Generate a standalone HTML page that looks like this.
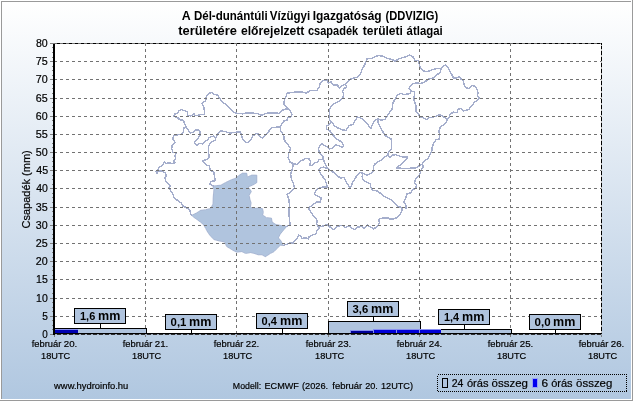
<!DOCTYPE html>
<html lang="hu"><head><meta charset="utf-8"><title>DDVIZIG csapadék előrejelzés</title>
<style>html,body{margin:0;padding:0;background:#fff;overflow:hidden}svg{display:block}text{font-family:"Liberation Sans",sans-serif;fill:#000;stroke:#000;stroke-width:0.2px}text[font-weight=bold]{stroke:none}</style>
</head><body>
<svg width="633" height="401" viewBox="0 0 633 401">
<defs><linearGradient id="bg" x1="0" y1="0" x2="0" y2="1"><stop offset="0" stop-color="#ffffff"/><stop offset="1" stop-color="#b0c7e0"/></linearGradient></defs>
<rect x="0" y="0" width="633" height="401" fill="#ffffff"/>
<rect x="2" y="2" width="630" height="398" fill="url(#bg)"/>
<g shape-rendering="crispEdges">
<rect x="1" y="1" width="630" height="1" fill="#9a9a9a"/>
<rect x="1" y="1" width="1" height="398" fill="#9a9a9a"/>
<rect x="0" y="400" width="633" height="1" fill="#9a9a9a"/>
<rect x="632" y="0" width="1" height="401" fill="#9a9a9a"/>
<rect x="1" y="399" width="631" height="1" fill="#ffffff"/>
<rect x="631" y="1" width="1" height="399" fill="#ffffff"/>
<rect x="54" y="43" width="548" height="292" fill="#ffffff"/>
</g>
<g fill="none" stroke="#a5aecc" stroke-width="1.45" stroke-linejoin="round" stroke-linecap="round" shape-rendering="crispEdges">
<polygon points="213.2,185.9 220.8,185.2 225.2,182.7 230.3,180.2 235.3,178.3 238.5,175.7 242.3,173.2 246.7,173.2 247.4,177.0 251.8,175.1 256.8,175.2 256.8,182.6 254.5,184.2 251.0,185.8 248.2,187.0 250.0,189.5 251.4,191.4 249.2,195.3 249.9,199.1 251.1,202.9 250.5,206.7 253.0,208.6 258.1,208.0 262.5,208.6 263.4,212.4 262.6,215.0 266.4,217.5 271.5,218.2 272.1,222.0 275.9,224.5 281.0,225.5 286.7,226.4 284.1,229.5 280.3,234.0 278.4,237.8 281.0,240.9 283.3,245.5 280.3,245.3 277.2,248.5 274.0,251.7 270.2,253.6 266.4,256.1 265.2,256.7 262.0,254.8 258.2,254.8 254.4,253.5 250.6,252.6 245.6,253.5 241.8,251.6 236.7,252.2 232.9,250.3 229.8,248.4 226.6,246.5 224.7,242.1 219.0,240.9 214.0,239.6 210.2,235.8 207.6,232.0 205.6,228.4 203.5,224.6 200.6,222.3 197.4,219.8 193.6,217.2 191.7,215.3 193.0,214.7 196.8,212.8 200.6,210.3 205.6,209.7 210.7,208.4 213.0,204.0 213.2,197.6 213.8,190.0" fill="#b0c4de" stroke="#a8b5d3" stroke-width="0.9"/>
<polyline points="173.4,116.5 174.7,114.0 177.2,113.4 179.0,110.9 181.6,109.6 184.1,110.5 187.3,111.7 187.9,115.3 190.5,115.9 192.4,115.3 193.6,113.4 194.9,115.3 198.0,115.3 200.6,114.7 204.4,114.7 204.4,110.9 203.7,106.4 201.8,103.3 203.7,102.0 205.6,100.7 206.3,96.3 208.2,93.8 211.7,92.3 214.5,94.4 217.6,95.1 219.5,98.2 222.1,102.0 225.2,103.9 227.5,106.4 230.7,109.6 234.5,112.5 237.6,113.4 242.7,113.8 247.1,112.8 252.2,113.0 257.9,113.8 261.7,115.3 265.5,113.4 269.9,112.8 275.6,113.0 279.4,113.4 282.5,110.2 286.3,109.0 288.2,109.0 286.3,106.4 283.8,104.5 284.4,100.1 286.3,96.3 286.9,93.2 292.0,92.5 297.1,91.9 302.1,91.9 306.3,93.0 310.1,90.7 316.4,90.7 319.0,87.9 320.2,83.1 324.7,79.7 327.2,80.1 328.4,82.9 331.0,81.6 333.5,85.4 337.3,84.8 339.2,87.9 342.4,85.4 345.5,84.4 349.3,79.7 354.4,77.8 357.5,77.2 360.7,73.4 362.2,69.0 364.5,65.2 367.0,58.8 372.1,58.2 375.9,56.3 378.8,55.7 382.6,56.1 385.8,57.6 389.0,58.9 392.1,59.5 395.3,61.4 398.4,58.9 402.9,57.6 406.7,56.4 409.8,55.1 413.0,57.0 414.9,60.2 418.0,60.8 419.3,64.0 420.6,68.4 423.7,70.9 426.9,71.8 430.7,70.3 434.5,69.0 438.3,68.4 441.0,69.0 442.6,67.0 445.2,65.1 447.7,67.0 449.6,70.8 451.5,74.0 453.4,77.8 456.5,78.0 459.3,76.7 461.0,79.0 463.1,80.9 464.1,84.7 466.0,87.9 468.6,88.5 471.7,85.6 474.9,86.0 476.8,89.1 478.0,92.3 477.4,95.5 479.3,98.0 476.5,100.6 473.7,103.2 471.2,106.4 468.7,109.6 463.6,110.9 460.5,108.3 457.9,109.6 457.3,112.8 453.5,112.1 450.3,114.0 449.1,117.2 447.2,119.7 445.9,122.9 443.4,124.8 440.2,127.3 439.0,131.1 439.6,134.9 439.4,138.8 436.0,139.9 433.5,143.3 432.2,147.7 431.6,152.1 429.7,154.7 428.4,158.4 424.7,160.3 422.1,164.1 423.4,166.7 420.9,170.5 420.0,173.6 419.0,176.1 415.9,178.2 414.6,182.6 416.5,185.2 415.9,188.3 412.7,189.6 410.8,192.8 407.0,194.0 405.7,197.8 403.8,201.6 405.7,204.8 406.4,207.9 401.9,207.3 401.9,210.5 400.1,214.2 397.5,217.4 394.4,218.7 390.6,219.3 388.0,217.8 383.6,217.8 380.5,218.7 378.8,219.5 379.4,222.6 378.2,225.2 376.3,227.1 373.7,229.0 370.6,227.1 367.4,225.2 364.2,228.3 361.7,226.4 357.9,227.1 354.8,229.6 351.6,228.3 349.1,225.8 345.3,227.7 342.1,225.2 337.1,226.4 333.9,229.6 330.7,227.7 328.2,225.2 325.1,225.2 322.1,226.4 318.3,227.0 318.9,228.9 317.0,230.8 315.7,234.0 312.0,235.2 308.8,237.1 308.2,239.0 305.6,237.8 301.8,238.4 300.6,235.9 298.7,235.2 296.8,239.0 294.2,240.9 293.6,243.1 290.5,242.8 287.3,244.1 283.3,245.5"/>
<polyline points="173.4,116.5 177.2,117.2 179.7,119.7 183.5,120.3 184.4,123.5 186.0,126.7 183.9,127.9 183.5,131.7 181.0,134.2 177.2,134.9 174.0,135.8 172.8,138.7 173.4,140.0 175.3,142.5 172.1,145.0 171.7,148.8 172.8,152.0 175.9,153.3 175.0,156.4 175.9,159.0 173.4,160.9 175.3,162.8 172.1,163.4 169.0,162.8 166.4,163.4 164.5,162.1 162.6,165.3 159.5,167.2 157.6,169.7 155.7,171.6 157.0,173.1 158.8,171.0 162.6,171.0 165.2,173.1 166.4,176.0 164.9,177.9 165.8,181.7 169.0,184.2 170.2,186.1 168.9,187.6 170.2,190.1 172.8,193.8 174.0,197.6 177.2,200.2 181.0,202.7 182.9,205.9 186.7,207.8 189.8,210.3 191.1,214.7 191.7,215.3"/>
<polyline points="186.0,126.7 187.9,129.8 190.5,133.0 193.0,132.4 194.9,130.2 198.0,129.8 199.9,131.7 200.3,134.9 198.7,137.4 196.8,140.0 194.5,142.5 197.4,145.7 198.7,143.2 202.5,143.8 205.6,140.6 207.5,140.0 209.4,137.4 213.2,136.1 215.7,138.0 218.3,133.0 220.8,130.7 224.6,131.5 230.1,133.0 235.1,132.4 240.2,131.7 241.4,135.5 242.7,138.8 245.9,142.6 248.4,142.6 250.9,140.0 252.2,136.9 253.4,135.5 256.0,133.6 258.5,134.2 260.4,137.4 262.9,138.0 265.5,134.9 268.0,132.4 269.9,129.8 271.8,127.3 275.6,127.3 280.0,126.7 281.9,124.1 283.8,121.0 286.9,120.3 287.6,117.8 290.7,117.2 292.0,114.7 290.7,111.5 288.2,109.0"/>
<polyline points="215.7,138.0 215.7,140.0 210.7,142.5 208.8,145.7 208.4,151.4 209.2,157.7 206.3,159.6 202.8,160.9 205.6,164.7 209.4,165.9 210.2,169.8 213.8,172.4 214.5,177.2 215.4,180.7 210.4,181.6 210.0,184.4 213.2,185.9"/>
<polyline points="280.0,126.7 280.6,130.5 282.5,133.6 284.4,136.8 283.6,139.0 285.7,142.0 288.2,145.1 290.7,148.3 288.8,152.7 288.2,157.8 290.1,162.2 293.3,163.4 292.6,167.9 290.7,174.2 291.4,178.8 293.3,183.2 294.5,187.6 291.4,191.4 287.0,194.6 288.8,199.0 289.5,205.3 288.8,212.9 289.5,219.2 290.2,225.1 286.7,226.4"/>
<polyline points="293.3,163.4 297.1,164.7 300.9,160.9 302.5,160.3 305.7,158.4 309.5,159.0 310.7,162.2 309.5,165.3 312.6,165.3 315.2,162.8 317.7,162.2 319.0,159.7 323.4,159.7"/>
<polyline points="345.5,84.4 346.8,86.7 344.2,88.6 342.4,91.1 343.6,94.2 343.0,97.4 341.7,99.4 337.9,102.0 334.1,103.8 331.0,106.4 329.3,110.2 329.7,115.2 329.7,119.7 331.6,122.2 328.4,125.3 326.5,126.0 326.8,129.1 329.7,130.4 331.0,132.9 333.5,135.5 337.3,139.4 341.7,142.0 343.6,145.7 342.4,147.6 338.6,145.7 335.4,144.5 333.5,147.6 329.7,148.9 327.2,147.0 324.7,145.7 322.1,143.8 319.6,145.7 318.3,149.5 320.2,153.3 322.8,155.9 323.4,159.7 325.3,164.1 327.2,167.9 330.3,170.4 333.5,172.3 336.7,175.5 340.5,178.0 344.2,177.4 345.5,181.1 348.2,185.2 350.5,187.7 352.6,182.6 355.2,178.2 357.7,174.4 360.2,172.3 362.8,173.2 367.2,175.1 371.0,173.2 373.5,170.6 373.3,166.6 374.8,164.2 377.9,161.7 381.7,159.8 384.2,157.2 387.4,155.3"/>
<polyline points="327.2,167.9 325.9,168.1 323.4,167.2 320.9,167.6 319.0,169.8 320.2,172.9 322.8,176.7 324.9,179.4 326.1,182.6 327.4,187.0 323.6,187.0 320.5,187.6 316.7,189.5 314.1,194.0 317.3,195.9 321.1,197.8 320.5,202.2 316.7,202.2 312.9,204.7 308.4,208.1 311.0,212.3 314.1,216.7 317.4,220.6 316.5,224.0 318.3,227.0"/>
<polyline points="331.6,122.2 334.8,126.0 337.9,127.9 342.4,129.8 346.1,130.4 348.7,126.0 353.1,124.1 355.6,119.7 357.5,117.1 360.7,117.8 365.7,122.2 368.9,126.0 370.8,128.5 373.3,122.8 375.5,119.4 378.2,119.1 378.2,122.9 380.3,127.4 383.1,132.1 385.4,135.6 388.8,137.7 391.3,139.2 391.8,144.0 391.2,149.0 388.7,152.2 387.4,155.3"/>
<polyline points="378.2,119.1 382.0,120.3 385.2,119.1 387.7,115.3 389.6,112.1 392.1,109.0 392.8,103.3 395.3,98.8 397.2,95.1 401.0,93.2 404.1,94.6 407.3,94.0 409.8,93.7 411.1,91.1 409.2,88.6 410.5,85.5 413.0,83.6 416.8,82.9 420.6,83.6 425.0,81.7 428.8,79.1 433.2,77.9 437.0,74.7 440.2,72.5 441.0,69.0"/>
<polyline points="411.1,91.1 414.5,91.8 414.2,96.3 414.2,100.7 416.1,106.4 416.1,111.5 418.7,114.7 420.6,116.8 424.4,118.4 426.3,119.7 428.8,117.8 431.9,117.2 435.7,116.5 438.9,114.5 442.1,115.9 444.9,117.8 447.2,119.7"/>
<polyline points="387.4,155.3 389.9,157.2 391.8,155.3 395.6,154.7 399.4,156.0 403.2,157.0 407.9,157.0 405.4,160.4 401.9,163.6 398.8,166.1 396.9,168.0 401.9,168.3 409.5,168.3 415.9,167.8 419.0,166.0 422.1,164.3"/>
<polyline points="362.8,173.2 362.1,177.0 363.4,180.1 366.5,182.0 370.3,183.9 371.0,187.7 372.9,190.2 377.3,190.9 380.5,193.4 383.6,195.9 387.4,197.8 391.2,199.7 393.7,202.2 396.3,204.8 398.8,206.9 401.9,207.3"/>
</g>
<g shape-rendering="crispEdges">
<line x1="54" y1="316.5" x2="601" y2="316.5" stroke="#727272" stroke-width="1" stroke-dasharray="3 3"/>
<line x1="54" y1="298.5" x2="601" y2="298.5" stroke="#727272" stroke-width="1" stroke-dasharray="3 3"/>
<line x1="54" y1="279.5" x2="601" y2="279.5" stroke="#727272" stroke-width="1" stroke-dasharray="3 3"/>
<line x1="54" y1="261.5" x2="601" y2="261.5" stroke="#727272" stroke-width="1" stroke-dasharray="3 3"/>
<line x1="54" y1="243.5" x2="601" y2="243.5" stroke="#727272" stroke-width="1" stroke-dasharray="3 3"/>
<line x1="54" y1="225.5" x2="601" y2="225.5" stroke="#727272" stroke-width="1" stroke-dasharray="3 3"/>
<line x1="54" y1="207.5" x2="601" y2="207.5" stroke="#727272" stroke-width="1" stroke-dasharray="3 3"/>
<line x1="54" y1="188.5" x2="601" y2="188.5" stroke="#727272" stroke-width="1" stroke-dasharray="3 3"/>
<line x1="54" y1="170.5" x2="601" y2="170.5" stroke="#727272" stroke-width="1" stroke-dasharray="3 3"/>
<line x1="54" y1="152.5" x2="601" y2="152.5" stroke="#727272" stroke-width="1" stroke-dasharray="3 3"/>
<line x1="54" y1="134.5" x2="601" y2="134.5" stroke="#727272" stroke-width="1" stroke-dasharray="3 3"/>
<line x1="54" y1="116.5" x2="601" y2="116.5" stroke="#727272" stroke-width="1" stroke-dasharray="3 3"/>
<line x1="54" y1="98.5" x2="601" y2="98.5" stroke="#727272" stroke-width="1" stroke-dasharray="3 3"/>
<line x1="54" y1="79.5" x2="601" y2="79.5" stroke="#727272" stroke-width="1" stroke-dasharray="3 3"/>
<line x1="54" y1="61.5" x2="601" y2="61.5" stroke="#727272" stroke-width="1" stroke-dasharray="3 3"/>
<line x1="145.5" y1="43" x2="145.5" y2="334" stroke="#727272" stroke-width="1" stroke-dasharray="3 3"/>
<line x1="236.5" y1="43" x2="236.5" y2="334" stroke="#727272" stroke-width="1" stroke-dasharray="3 3"/>
<line x1="328.5" y1="43" x2="328.5" y2="334" stroke="#727272" stroke-width="1" stroke-dasharray="3 3"/>
<line x1="419.5" y1="43" x2="419.5" y2="334" stroke="#727272" stroke-width="1" stroke-dasharray="3 3"/>
<line x1="510.5" y1="43" x2="510.5" y2="334" stroke="#727272" stroke-width="1" stroke-dasharray="3 3"/>
<rect x="50" y="334" width="3" height="1" fill="#808080"/>
<rect x="52" y="329" width="1" height="1" fill="#808080"/>
<rect x="52" y="325" width="1" height="1" fill="#808080"/>
<rect x="52" y="320" width="1" height="1" fill="#808080"/>
<rect x="50" y="316" width="3" height="1" fill="#808080"/>
<rect x="52" y="311" width="1" height="1" fill="#808080"/>
<rect x="52" y="307" width="1" height="1" fill="#808080"/>
<rect x="52" y="302" width="1" height="1" fill="#808080"/>
<rect x="50" y="298" width="3" height="1" fill="#808080"/>
<rect x="52" y="293" width="1" height="1" fill="#808080"/>
<rect x="52" y="288" width="1" height="1" fill="#808080"/>
<rect x="52" y="284" width="1" height="1" fill="#808080"/>
<rect x="50" y="279" width="3" height="1" fill="#808080"/>
<rect x="52" y="275" width="1" height="1" fill="#808080"/>
<rect x="52" y="270" width="1" height="1" fill="#808080"/>
<rect x="52" y="266" width="1" height="1" fill="#808080"/>
<rect x="50" y="261" width="3" height="1" fill="#808080"/>
<rect x="52" y="257" width="1" height="1" fill="#808080"/>
<rect x="52" y="252" width="1" height="1" fill="#808080"/>
<rect x="52" y="248" width="1" height="1" fill="#808080"/>
<rect x="50" y="243" width="3" height="1" fill="#808080"/>
<rect x="52" y="238" width="1" height="1" fill="#808080"/>
<rect x="52" y="234" width="1" height="1" fill="#808080"/>
<rect x="52" y="229" width="1" height="1" fill="#808080"/>
<rect x="50" y="225" width="3" height="1" fill="#808080"/>
<rect x="52" y="220" width="1" height="1" fill="#808080"/>
<rect x="52" y="216" width="1" height="1" fill="#808080"/>
<rect x="52" y="211" width="1" height="1" fill="#808080"/>
<rect x="50" y="207" width="3" height="1" fill="#808080"/>
<rect x="52" y="202" width="1" height="1" fill="#808080"/>
<rect x="52" y="197" width="1" height="1" fill="#808080"/>
<rect x="52" y="193" width="1" height="1" fill="#808080"/>
<rect x="50" y="188" width="3" height="1" fill="#808080"/>
<rect x="52" y="184" width="1" height="1" fill="#808080"/>
<rect x="52" y="179" width="1" height="1" fill="#808080"/>
<rect x="52" y="175" width="1" height="1" fill="#808080"/>
<rect x="50" y="170" width="3" height="1" fill="#808080"/>
<rect x="52" y="166" width="1" height="1" fill="#808080"/>
<rect x="52" y="161" width="1" height="1" fill="#808080"/>
<rect x="52" y="157" width="1" height="1" fill="#808080"/>
<rect x="50" y="152" width="3" height="1" fill="#808080"/>
<rect x="52" y="147" width="1" height="1" fill="#808080"/>
<rect x="52" y="143" width="1" height="1" fill="#808080"/>
<rect x="52" y="138" width="1" height="1" fill="#808080"/>
<rect x="50" y="134" width="3" height="1" fill="#808080"/>
<rect x="52" y="129" width="1" height="1" fill="#808080"/>
<rect x="52" y="125" width="1" height="1" fill="#808080"/>
<rect x="52" y="120" width="1" height="1" fill="#808080"/>
<rect x="50" y="116" width="3" height="1" fill="#808080"/>
<rect x="52" y="111" width="1" height="1" fill="#808080"/>
<rect x="52" y="107" width="1" height="1" fill="#808080"/>
<rect x="52" y="102" width="1" height="1" fill="#808080"/>
<rect x="50" y="98" width="3" height="1" fill="#808080"/>
<rect x="52" y="93" width="1" height="1" fill="#808080"/>
<rect x="52" y="88" width="1" height="1" fill="#808080"/>
<rect x="52" y="84" width="1" height="1" fill="#808080"/>
<rect x="50" y="79" width="3" height="1" fill="#808080"/>
<rect x="52" y="75" width="1" height="1" fill="#808080"/>
<rect x="52" y="70" width="1" height="1" fill="#808080"/>
<rect x="52" y="66" width="1" height="1" fill="#808080"/>
<rect x="50" y="61" width="3" height="1" fill="#808080"/>
<rect x="52" y="57" width="1" height="1" fill="#808080"/>
<rect x="52" y="52" width="1" height="1" fill="#808080"/>
<rect x="52" y="47" width="1" height="1" fill="#808080"/>
<rect x="50" y="43" width="3" height="1" fill="#808080"/>
<rect x="54" y="335" width="1" height="2" fill="#808080"/>
<rect x="145" y="335" width="1" height="2" fill="#808080"/>
<rect x="236" y="335" width="1" height="2" fill="#808080"/>
<rect x="328" y="335" width="1" height="2" fill="#808080"/>
<rect x="419" y="335" width="1" height="2" fill="#808080"/>
<rect x="510" y="335" width="1" height="2" fill="#808080"/>
<rect x="601" y="335" width="1" height="2" fill="#808080"/>
</g>
<g shape-rendering="crispEdges">
<rect x="54.5" y="328.5" width="92" height="5" fill="#b0c4de" stroke="#000" stroke-width="1"/>
<rect x="328.5" y="321.5" width="92" height="12" fill="#b0c4de" stroke="#000" stroke-width="1"/>
<rect x="419.5" y="329.5" width="92" height="4" fill="#b0c4de" stroke="#000" stroke-width="1"/>
<rect x="54" y="329" width="24" height="4" fill="#8890f0"/>
<rect x="55" y="330" width="23" height="3" fill="#0000b0"/>
<rect x="350" y="330" width="23" height="3" fill="#8890f0"/>
<rect x="351" y="331" width="22" height="2" fill="#000098"/>
<rect x="373" y="329" width="23" height="4" fill="#8890f0"/>
<rect x="374" y="330" width="22" height="3" fill="#0000d8"/>
<rect x="396" y="329" width="23" height="4" fill="#8890f0"/>
<rect x="397" y="330" width="22" height="3" fill="#0000d8"/>
<rect x="419" y="329" width="22" height="4" fill="#8890f0"/>
<rect x="420" y="330" width="21" height="3" fill="#0000d8"/>
<rect x="53" y="43" width="2" height="292" fill="#000"/>
<rect x="53" y="333" width="549" height="1" fill="#000"/>
<line x1="50" y1="43.5" x2="55" y2="43.5" stroke="#808080" stroke-width="1"/>
<line x1="54" y1="43.5" x2="602" y2="43.5" stroke="#727272" stroke-width="1" stroke-dasharray="3 3"/>
<line x1="57" y1="43.5" x2="602" y2="43.5" stroke="#000" stroke-width="1" stroke-dasharray="3 3"/>
<line x1="601.5" y1="43" x2="601.5" y2="335" stroke="#b8b8b8" stroke-width="1"/>
<line x1="601.5" y1="43" x2="601.5" y2="335" stroke="#000" stroke-width="1" stroke-dasharray="2 1 3 2 4 2 4 2 4 2 4 2 4 2 4 2 4 2 4 2 4 2 4 2 4 2 4 2 4 2 4 2 4 2 4 2 4 2 4 2 4 2 4 2 4 2 4 2 4 2 4 2 4 2 4 2 4 2 4 2 4 2 4 2 4 2 4 2 4 2 4 2 4 2 4 2 4 2 4 2 4 2 4 2 4 2 4 2 4 2 4 2 4 2 4 2 4 2 4 2"/>
<line x1="55" y1="334.5" x2="602" y2="334.5" stroke="#a3afc2" stroke-width="1"/>
<line x1="57" y1="334.5" x2="602" y2="334.5" stroke="#303030" stroke-width="1" stroke-dasharray="4 2"/>
<rect x="100" y="324" width="1" height="4" fill="#000"/>
<rect x="74.5" y="308.5" width="51" height="15" fill="#b0c4de" stroke="#000" stroke-width="1"/>
<rect x="191" y="330" width="1" height="3" fill="#000"/>
<rect x="165.5" y="314.5" width="51" height="15" fill="#b0c4de" stroke="#000" stroke-width="1"/>
<rect x="282" y="329" width="1" height="4" fill="#000"/>
<rect x="256.5" y="313.5" width="51" height="15" fill="#b0c4de" stroke="#000" stroke-width="1"/>
<rect x="373" y="317" width="1" height="4" fill="#000"/>
<rect x="347.5" y="301.5" width="51" height="15" fill="#b0c4de" stroke="#000" stroke-width="1"/>
<rect x="464" y="325" width="1" height="4" fill="#000"/>
<rect x="438.5" y="309.5" width="51" height="15" fill="#b0c4de" stroke="#000" stroke-width="1"/>
<rect x="555" y="330" width="1" height="3" fill="#000"/>
<rect x="529.5" y="314.5" width="51" height="15" fill="#b0c4de" stroke="#000" stroke-width="1"/>
</g>
<text transform="translate(79.96 320) scale(0.9748 1)" font-size="11.3" font-weight="bold">1,6</text>
<text transform="translate(98.06 320) scale(1.0446 1)" font-size="12" font-weight="bold">mm</text>
<text transform="translate(170.62 326) scale(1.0043 1)" font-size="11.3" font-weight="bold">0,1</text>
<text transform="translate(189.06 326) scale(1.0446 1)" font-size="12" font-weight="bold">mm</text>
<text transform="translate(261.62 325) scale(0.9767 1)" font-size="11.3" font-weight="bold">0,4</text>
<text transform="translate(280.06 325) scale(1.0446 1)" font-size="12" font-weight="bold">mm</text>
<text transform="translate(352.47 313) scale(1.0034 1)" font-size="11.3" font-weight="bold">3,6</text>
<text transform="translate(371.06 313) scale(1.0446 1)" font-size="12" font-weight="bold">mm</text>
<text transform="translate(444.08 321) scale(0.9582 1)" font-size="11.3" font-weight="bold">1,4</text>
<text transform="translate(462.06 321) scale(1.0446 1)" font-size="12" font-weight="bold">mm</text>
<text transform="translate(534.62 326) scale(1.02 1)" font-size="11.3" font-weight="bold">0,0</text>
<text transform="translate(553.06 326) scale(1.0446 1)" font-size="12" font-weight="bold">mm</text>
<text transform="translate(181.83 19.6) scale(1.0313 1)" font-size="12" font-weight="bold">A</text>
<text transform="translate(193.92 19.6) scale(0.9621 1)" font-size="12" font-weight="bold">Dél-dunántúli</text>
<text transform="translate(269.79 19.6) scale(0.9602 1)" font-size="12" font-weight="bold">Vízügyi</text>
<text transform="translate(312.63 19.6) scale(0.9951 1)" font-size="12" font-weight="bold">Igazgatóság</text>
<text transform="translate(385.51 19.6) scale(0.9302 1)" font-size="12" font-weight="bold">(DDVIZIG)</text>
<text transform="translate(178.23 34.5) scale(1.0734 1)" font-size="12" font-weight="bold">területére</text>
<text transform="translate(240.99 34.5) scale(1.0128 1)" font-size="12" font-weight="bold">előrejelzett</text>
<text transform="translate(307.91 34.5) scale(0.9211 1)" font-size="12" font-weight="bold">csapadék</text>
<text transform="translate(362.82 34.5) scale(1.0013 1)" font-size="12" font-weight="bold">területi</text>
<text transform="translate(406.6 34.5) scale(0.9503 1)" font-size="12" font-weight="bold">átlagai</text>
<text transform="translate(31.7 347) scale(0.9636 1)" font-size="9.7">február</text>
<text transform="translate(63.81 347) scale(0.9988 1)" font-size="9.7">20.</text>
<text transform="translate(41.04 359) scale(0.9503 1)" font-size="9.7">18UTC</text>
<text transform="translate(122.7 347) scale(0.9636 1)" font-size="9.7">február</text>
<text transform="translate(154.81 347) scale(0.9988 1)" font-size="9.7">21.</text>
<text transform="translate(132.04 359) scale(0.9503 1)" font-size="9.7">18UTC</text>
<text transform="translate(213.7 347) scale(0.9636 1)" font-size="9.7">február</text>
<text transform="translate(245.81 347) scale(0.9988 1)" font-size="9.7">22.</text>
<text transform="translate(223.04 359) scale(0.9503 1)" font-size="9.7">18UTC</text>
<text transform="translate(305.7 347) scale(0.9636 1)" font-size="9.7">február</text>
<text transform="translate(337.81 347) scale(0.9988 1)" font-size="9.7">23.</text>
<text transform="translate(315.04 359) scale(0.9503 1)" font-size="9.7">18UTC</text>
<text transform="translate(396.7 347) scale(0.9636 1)" font-size="9.7">február</text>
<text transform="translate(428.81 347) scale(0.9988 1)" font-size="9.7">24.</text>
<text transform="translate(406.04 359) scale(0.9503 1)" font-size="9.7">18UTC</text>
<text transform="translate(487.7 347) scale(0.9636 1)" font-size="9.7">február</text>
<text transform="translate(519.81 347) scale(0.9988 1)" font-size="9.7">25.</text>
<text transform="translate(497.04 359) scale(0.9503 1)" font-size="9.7">18UTC</text>
<text transform="translate(578.7 347) scale(0.9636 1)" font-size="9.7">február</text>
<text transform="translate(610.81 347) scale(0.9988 1)" font-size="9.7">26.</text>
<text transform="translate(588.04 359) scale(0.9503 1)" font-size="9.7">18UTC</text>
<text transform="translate(54.06 389) scale(0.9718 1)" font-size="9.7">www.hydroinfo.hu</text>
<text transform="translate(232.82 389) scale(0.9056 1)" font-size="9.7">Modell:</text>
<text transform="translate(264.53 389) scale(0.9391 1)" font-size="9.7">ECMWF</text>
<text transform="translate(302.0 389) scale(0.9511 1)" font-size="9.7">(2026.</text>
<text transform="translate(332.25 389) scale(0.9781 1)" font-size="9.7">február</text>
<text transform="translate(365.22 389) scale(0.942 1)" font-size="9.7">20.</text>
<text transform="translate(380.92 389) scale(0.9479 1)" font-size="9.7">12UTC)</text>
<text transform="translate(451.75 386.6) scale(0.9556 1)" font-size="11">24</text>
<text transform="translate(466.89 386.6) scale(1.0101 1)" font-size="11">órás</text>
<text transform="translate(491.61 386.6) scale(1.0446 1)" font-size="11">összeg</text>
<text transform="translate(541.47 386.6) scale(1.0776 1)" font-size="11">6</text>
<text transform="translate(551.14 386.6) scale(1.0046 1)" font-size="11">órás</text>
<text transform="translate(576.11 386.6) scale(1.0397 1)" font-size="11">összeg</text>
<text transform="translate(42.15 338) scale(0.8974 1)" font-size="11">0</text>
<text transform="translate(42.17 320) scale(0.9237 1)" font-size="11">5</text>
<text transform="translate(36.08 302) scale(0.9531 1)" font-size="11">10</text>
<text transform="translate(36.07 283) scale(0.9594 1)" font-size="11">15</text>
<text transform="translate(35.81 265) scale(0.9749 1)" font-size="11">20</text>
<text transform="translate(35.8 247) scale(0.9816 1)" font-size="11">25</text>
<text transform="translate(35.86 229) scale(0.971 1)" font-size="11">30</text>
<text transform="translate(35.85 211) scale(0.9798 1)" font-size="11">35</text>
<text transform="translate(36.21 192) scale(0.9529 1)" font-size="11">40</text>
<text transform="translate(36.23 174) scale(0.9752 1)" font-size="11">45</text>
<text transform="translate(35.77 156) scale(0.9759 1)" font-size="11">50</text>
<text transform="translate(35.74 138) scale(0.9925 1)" font-size="11">55</text>
<text transform="translate(35.87 120) scale(0.9677 1)" font-size="11">60</text>
<text transform="translate(35.87 102) scale(0.9766 1)" font-size="11">65</text>
<text transform="translate(35.76 83) scale(0.9743 1)" font-size="11">70</text>
<text transform="translate(35.74 65) scale(0.9846 1)" font-size="11">75</text>
<text transform="translate(35.95 47) scale(0.9643 1)" font-size="11">80</text>
<text transform="translate(29.6 189.4) rotate(-90)" font-size="11" text-anchor="middle" textLength="78.3" lengthAdjust="spacing">Csapadék (mm)</text>
<g shape-rendering="crispEdges">
<rect x="437.5" y="374.5" width="189" height="17" fill="none" stroke="#000" stroke-width="1" stroke-dasharray="1 1"/>
<rect x="442.5" y="378.5" width="5" height="9" fill="#b0c4de" stroke="#000" stroke-width="1"/>
<rect x="532.5" y="378.5" width="5" height="9" fill="#0000f0" stroke="#98a2f4" stroke-width="1"/>
</g>
</svg></body></html>
